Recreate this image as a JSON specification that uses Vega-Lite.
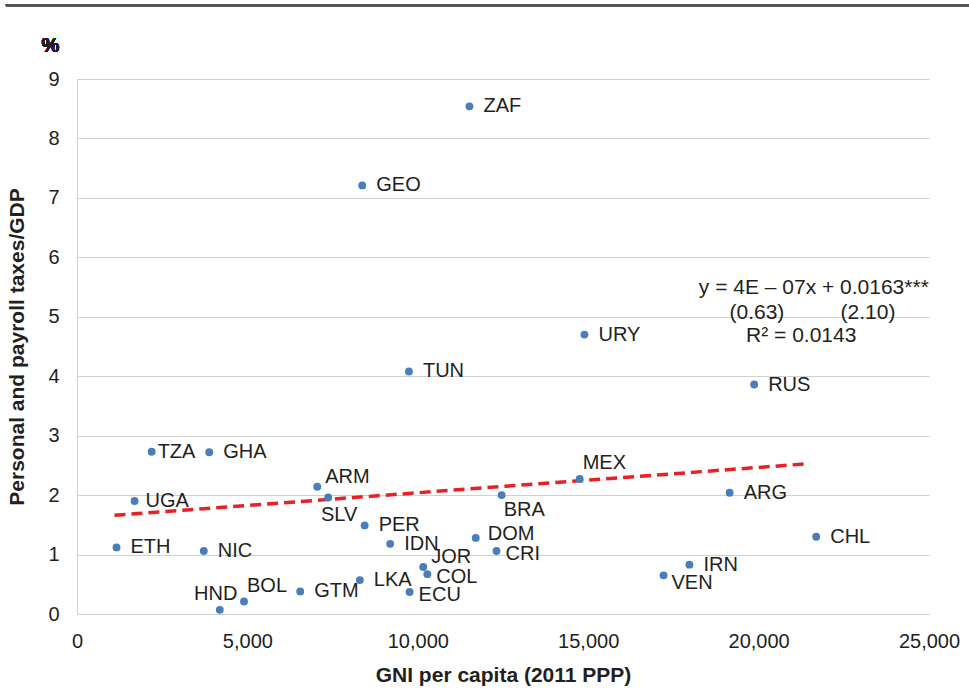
{
  "$schema": "https://vega.github.io/schema/vega-lite/v6.json",
  "autosize": "none",
  "width": 852,
  "height": 535,
  "padding": {"left": 77, "top": 79, "right": 40, "bottom": 75},
  "background": "white",
  "config": {
    "font": "Liberation Sans",
    "view": {"stroke": null},
    "text": {"font": "Liberation Sans", "fontSize": 20, "color": "#231f20"}
  },
  "data": {
    "values": [
      {"c": "ZAF", "gni": 11516, "tax": 8.54},
      {"c": "GEO", "gni": 8370, "tax": 7.21},
      {"c": "TUN", "gni": 9740, "tax": 4.08},
      {"c": "URY", "gni": 14890, "tax": 4.70},
      {"c": "RUS", "gni": 19870, "tax": 3.86},
      {"c": "TZA", "gni": 2190, "tax": 2.73},
      {"c": "GHA", "gni": 3880, "tax": 2.72},
      {"c": "ARM", "gni": 7050, "tax": 2.14},
      {"c": "SLV", "gni": 7370, "tax": 1.96},
      {"c": "UGA", "gni": 1690, "tax": 1.90},
      {"c": "BRA", "gni": 12460, "tax": 2.00},
      {"c": "MEX", "gni": 14750, "tax": 2.27},
      {"c": "ARG", "gni": 19150, "tax": 2.04},
      {"c": "CHL", "gni": 21690, "tax": 1.30},
      {"c": "IRN", "gni": 17970, "tax": 0.83},
      {"c": "VEN", "gni": 17210, "tax": 0.65},
      {"c": "CRI", "gni": 12310, "tax": 1.06},
      {"c": "DOM", "gni": 11700, "tax": 1.28},
      {"c": "PER", "gni": 8440, "tax": 1.49},
      {"c": "IDN", "gni": 9190, "tax": 1.18},
      {"c": "ETH", "gni": 1160, "tax": 1.12},
      {"c": "NIC", "gni": 3720, "tax": 1.06},
      {"c": "JOR", "gni": 10160, "tax": 0.79},
      {"c": "COL", "gni": 10280, "tax": 0.67},
      {"c": "LKA", "gni": 8300, "tax": 0.57},
      {"c": "ECU", "gni": 9760, "tax": 0.37},
      {"c": "GTM", "gni": 6550, "tax": 0.38},
      {"c": "BOL", "gni": 4900, "tax": 0.21},
      {"c": "HND", "gni": 4190, "tax": 0.07}
    ]
  },
  "encoding": {
    "x": {
      "field": "gni", "type": "quantitative",
      "scale": {"domain": [0, 25000], "nice": false, "zero": true},
      "axis": {
        "title": "GNI per capita (2011 PPP)",
        "values": [0, 5000, 10000, 15000, 20000, 25000],
        "format": ",d",
        "grid": false,
        "domain": true, "domainColor": "#d0d0d0", "domainWidth": 1,
        "ticks": false,
        "labelPadding": 17,
        "labelFontSize": 20, "labelColor": "#231f20", "labelFont": "Liberation Sans",
        "labelOverlap": false, "labelFlush": false,
        "titleFontSize": 21, "titleFontWeight": "bold", "titleColor": "#231f20", "titleFont": "Liberation Sans",
        "titlePadding": 13
      }
    },
    "y": {
      "field": "tax", "type": "quantitative",
      "scale": {"domain": [0, 9], "nice": false},
      "axis": {
        "title": "Personal and payroll taxes/GDP",
        "values": [0, 1, 2, 3, 4, 5, 6, 7, 8, 9],
        "grid": true, "gridColor": "#d0d0d0", "gridWidth": 1,
        "domain": true, "domainColor": "#d0d0d0", "domainWidth": 1,
        "ticks": false,
        "labelPadding": 18,
        "labelFontSize": 20, "labelColor": "#231f20", "labelFont": "Liberation Sans",
        "titleFontSize": 21, "titleFontWeight": "bold", "titleColor": "#231f20", "titleFont": "Liberation Sans",
        "titlePadding": 20
      }
    }
  },
  "layer": [
    {
      "mark": {"type": "rule", "color": "#555555", "strokeWidth": 2},
      "encoding": {
        "x": {"datum": -2085},
        "x2": {"datum": 26200},
        "y": {"datum": 10.24}
      }
    },
    {
      "mark": {"type": "text", "align": "left", "baseline": "middle", "fontWeight": "bold", "fontSize": 20},
      "encoding": {
        "x": {"datum": -1040},
        "y": {"datum": 9.55},
        "text": {"value": "%"}
      }
    },
    {
      "data": {"values": [{"gni": 1100, "tax": 1.66}, {"gni": 21500, "tax": 2.53}]},
      "mark": {"type": "line", "color": "#ea2027", "strokeWidth": 3.5, "strokeDash": [11, 6]},
      "encoding": {}
    },
    {
      "mark": {"type": "circle", "size": 62, "opacity": 1, "color": "#4a7ebb"}
    },
    {
      "transform": [{"filter": {"field": "c", "oneOf": ["ZAF", "GEO", "TUN", "URY", "RUS", "GHA", "ARG", "CHL", "IRN", "PER", "IDN", "ETH", "NIC", "LKA", "GTM"]}}],
      "mark": {"type": "text", "align": "left", "baseline": "middle", "dx": 14, "dy": 0},
      "encoding": {"text": {"field": "c"}}
    },
    {
      "transform": [{"filter": {"field": "c", "oneOf": ["UGA"]}}],
      "mark": {"type": "text", "align": "left", "baseline": "middle", "dx": 11, "dy": 0},
      "encoding": {"text": {"field": "c"}}
    },
    {
      "transform": [{"filter": {"field": "c", "oneOf": ["TZA"]}}],
      "mark": {"type": "text", "align": "left", "baseline": "middle", "dx": 6, "dy": 0},
      "encoding": {"text": {"field": "c"}}
    },
    {
      "transform": [{"filter": {"field": "c", "oneOf": ["CRI", "COL", "ECU"]}}],
      "mark": {"type": "text", "align": "left", "baseline": "middle", "dx": 9, "dy": 3},
      "encoding": {"text": {"field": "c"}}
    },
    {
      "transform": [{"filter": {"field": "c", "oneOf": ["VEN"]}}],
      "mark": {"type": "text", "align": "left", "baseline": "middle", "dx": 8, "dy": 8},
      "encoding": {"text": {"field": "c"}}
    },
    {
      "transform": [{"filter": {"field": "c", "oneOf": ["ARM", "JOR"]}}],
      "mark": {"type": "text", "align": "left", "baseline": "middle", "dx": 8, "dy": -10},
      "encoding": {"text": {"field": "c"}}
    },
    {
      "transform": [{"filter": {"field": "c", "oneOf": ["DOM"]}}],
      "mark": {"type": "text", "align": "left", "baseline": "middle", "dx": 12, "dy": -4},
      "encoding": {"text": {"field": "c"}}
    },
    {
      "transform": [{"filter": {"field": "c", "oneOf": ["MEX", "BOL"]}}],
      "mark": {"type": "text", "align": "left", "baseline": "middle", "dx": 3, "dy": -16},
      "encoding": {"text": {"field": "c"}}
    },
    {
      "transform": [{"filter": {"field": "c", "oneOf": ["HND"]}}],
      "mark": {"type": "text", "align": "center", "baseline": "middle", "dx": -4, "dy": -16},
      "encoding": {"text": {"field": "c"}}
    },
    {
      "transform": [{"filter": {"field": "c", "oneOf": ["BRA"]}}],
      "mark": {"type": "text", "align": "left", "baseline": "middle", "dx": 2, "dy": 15},
      "encoding": {"text": {"field": "c"}}
    },
    {
      "transform": [{"filter": {"field": "c", "oneOf": ["SLV"]}}],
      "mark": {"type": "text", "align": "center", "baseline": "middle", "dx": 11, "dy": 18},
      "encoding": {"text": {"field": "c"}}
    },
    {
      "data": {"values": [
        {"t": "y = 4E – 07x + 0.0163***", "gni": 21620, "tax": 5.48},
        {"t": "(0.63)", "gni": 19950, "tax": 5.06},
        {"t": "(2.10)", "gni": 23210, "tax": 5.06},
        {"t": "R² = 0.0143", "gni": 21250, "tax": 4.68}
      ]},
      "mark": {"type": "text", "align": "center", "baseline": "middle", "fontSize": 21},
      "encoding": {"text": {"field": "t"}}
    }
  ]
}
